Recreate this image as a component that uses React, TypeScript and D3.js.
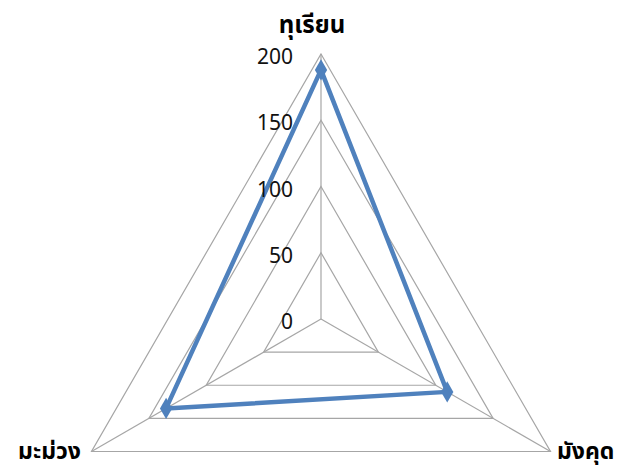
import React from "react";
import * as d3 from "d3";

// Fruit categories around the radar, clockwise from the top
const categories: string[] = ["ทุเรียน", "มังคุด", "มะม่วง"];
// Series values per category
const values: number[] = [188, 110, 135];
// Radial tick values for the grid rings
const ticks: number[] = [0, 50, 100, 150, 200];

const W = 621;
const H = 471;
const cx = 321;
const cy = 319;
const R = 265;

const rScale = d3.scaleLinear().domain([0, 200]).range([0, R]);

// Angle of each category, starting at 12 o'clock and going clockwise
const step = (2 * Math.PI) / categories.length;
const angleOf = (i: number) => i * step;

const pt = (i: number, v: number): [number, number] => {
  const a = angleOf(i);
  const r = rScale(v);
  return [r * Math.sin(a), -r * Math.cos(a)];
};

const radial = d3
  .lineRadial<number>()
  .angle((_, i) => angleOf(i))
  .radius((d) => rScale(d))
  .curve(d3.curveLinearClosed);

const diamond = d3.symbol().type(d3.symbolDiamond).size(130);

const FONT = "Tahoma, 'Noto Sans Thai', 'Noto Sans', 'DejaVu Sans', sans-serif";

export default function App() {
  return (
    <svg
      width={W}
      height={H}
      style={{ position: "absolute", left: 0, top: 0, background: "#fff" }}
      fontFamily={FONT}
    >
      <g transform={`translate(${cx},${cy})`}>
        {/* grid rings */}
        {ticks
          .filter((t) => t > 0)
          .map((t) => (
            <path
              key={t}
              d={radial(categories.map(() => t)) ?? ""}
              fill="none"
              stroke="#a6a6a6"
              strokeWidth={1.2}
            />
          ))}
        {/* spokes */}
        {categories.map((c, i) => {
          const [x, y] = pt(i, 200);
          return (
            <line key={c} x1={0} y1={0} x2={x} y2={y} stroke="#a6a6a6" strokeWidth={1.2} />
          );
        })}
        {/* series */}
        <path
          d={radial(values) ?? ""}
          fill="none"
          stroke="#4f81bd"
          strokeWidth={4.5}
          strokeLinejoin="round"
        />
        {values.map((v, i) => {
          const [x, y] = pt(i, v);
          return (
            <path
              key={i}
              d={diamond() ?? ""}
              transform={`translate(${x},${y})`}
              fill="#4f81bd"
            />
          );
        })}
      </g>
      {/* radial tick labels */}
      {ticks.map((t) => (
        <text
          key={t}
          x={cx - 28}
          y={cy - rScale(t) + 10}
          textAnchor="end"
          fontSize={21}
          fill="#111"
        >
          {t}
        </text>
      ))}
      {/* category labels */}
      <text x={312} y={33} textAnchor="middle" fontSize={24} fontWeight="bold" fill="#000">
        {categories[0]}
      </text>
      <text x={557} y={459} textAnchor="start" fontSize={23} fontWeight="bold" fill="#000">
        {categories[1]}
      </text>
      <text x={81} y={459} textAnchor="end" fontSize={23} fontWeight="bold" fill="#000">
        {categories[2]}
      </text>
    </svg>
  );
}
